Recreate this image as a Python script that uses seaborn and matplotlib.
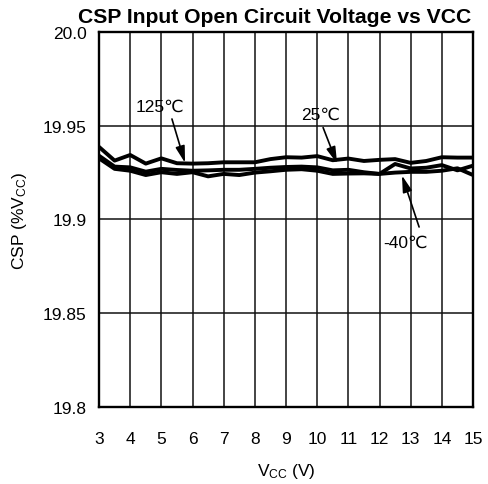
import numpy as np
import pandas as pd
import matplotlib
matplotlib.use('Agg')
import matplotlib.pyplot as plt
import seaborn as sns

# ─── Data ────────────────────────────────────────────────────────────────────
vcc = [3.0, 3.5, 4.0, 4.5, 5.0, 5.5, 6.0, 6.5, 7.0, 7.5, 8.0, 8.5, 9.0,
       9.5, 10.0, 10.5, 11.0, 11.5, 12.0, 12.5, 13.0, 13.5, 14.0, 14.5, 15.0]

csp_125 = [19.9387, 19.9314, 19.9344, 19.9298, 19.9326, 19.9300, 19.9298, 19.9300,
           19.9305, 19.9305, 19.9305, 19.9322, 19.9332, 19.9330, 19.9338, 19.9316,
           19.9325, 19.9312, 19.9318, 19.9322, 19.9302, 19.9312, 19.9332, 19.9330,
           19.9330]
csp_25 = [19.9340, 19.9282, 19.9278, 19.9255, 19.9270, 19.9264, 19.9260, 19.9262,
          19.9265, 19.9265, 19.9270, 19.9276, 19.9280, 19.9282, 19.9278, 19.9262,
          19.9265, 19.9252, 19.9243, 19.9296, 19.9272, 19.9276, 19.9290, 19.9262,
          19.9287]
csp_m40 = [19.9326, 19.9270, 19.9260, 19.9237, 19.9252, 19.9243, 19.9252, 19.9230,
           19.9243, 19.9237, 19.9250, 19.9257, 19.9265, 19.9268, 19.9260, 19.9243,
           19.9245, 19.9246, 19.9243, 19.9250, 19.9254, 19.9254, 19.9260, 19.9273,
           19.9237]

temps = ['125℃', '25℃', '-40℃']

y_ticks = [19.8, 19.85, 19.9, 19.95, 20.0]
y_tick_labels = ['19.8', '19.85', '19.9', '19.95', '20.0']
x_ticks = list(range(3, 16))

df = pd.DataFrame({
    'vcc': vcc * 3,
    'csp': csp_125 + csp_25 + csp_m40,
    'temp': [t for t in temps for _ in vcc],
})

# ─── Style ───────────────────────────────────────────────────────────────────
sns.set_style('white')
plt.rcParams['font.family'] = ['Liberation Sans', 'DejaVu Sans']
plt.rcParams['mathtext.fontset'] = 'custom'
plt.rcParams['mathtext.rm'] = 'Liberation Sans'
plt.rcParams['mathtext.it'] = 'Liberation Sans'
plt.rcParams['text.color'] = 'black'
plt.rcParams['axes.labelcolor'] = 'black'

fig = plt.figure(figsize=(4.89, 4.85), dpi=100)
ax = fig.add_axes([0.2025, 0.1588, 0.7648, 0.7732])

sns.lineplot(data=df, x='vcc', y='csp', hue='temp', units='temp', estimator=None,
             palette=['black'] * 3, linewidth=2.8, legend=False, ax=ax)

ax.set_xlim(3, 15)
ax.set_ylim(19.8, 20.0)
ax.set_xticks(x_ticks)
ax.set_xticklabels([str(t) for t in x_ticks])
ax.set_yticks(y_ticks)
ax.set_yticklabels(y_tick_labels)
ax.tick_params(length=0, labelsize=12.5, colors='black')
ax.tick_params(axis='x', pad=17)
ax.tick_params(axis='y', pad=9)

ax.grid(True, color='#111111', linewidth=1.1)
ax.set_axisbelow(True)
for sp in ax.spines.values():
    sp.set_visible(True)
    sp.set_color('black')
    sp.set_linewidth(1.7)

ax.set_xlabel('V$_{\\mathrm{CC}}$ (V)', fontsize=12.5, labelpad=11)
ax.set_ylabel('CSP (%V$_{\\mathrm{CC}}$)', fontsize=12.5, labelpad=10)
fig.text(0.562, 0.963, 'CSP Input Open Circuit Voltage vs VCC', ha='center', va='center',
         fontsize=15.2, fontweight='bold')

# ─── Annotations ─────────────────────────────────────────────────────────────
arrow = dict(arrowstyle='-|>,head_length=1.0,head_width=0.28', color='black', lw=1.2,
             shrinkA=0, shrinkB=0)
ax.text(4.96, 19.9605, '125℃', fontsize=12.5, ha='center', va='center')
ax.annotate('', xy=(5.76, 19.9302), xytext=(5.34, 19.9536), arrowprops=arrow)
ax.text(10.12, 19.9563, '25℃', fontsize=12.5, ha='center', va='center')
ax.annotate('', xy=(10.64, 19.9298), xytext=(10.19, 19.9490), arrowprops=arrow)
ax.text(12.82, 19.8880, '-40℃', fontsize=12.5, ha='center', va='center')
ax.annotate('', xy=(12.72, 19.9235), xytext=(13.27, 19.8960), arrowprops=arrow)

plt.savefig('out.png', dpi=100)
plt.close()
